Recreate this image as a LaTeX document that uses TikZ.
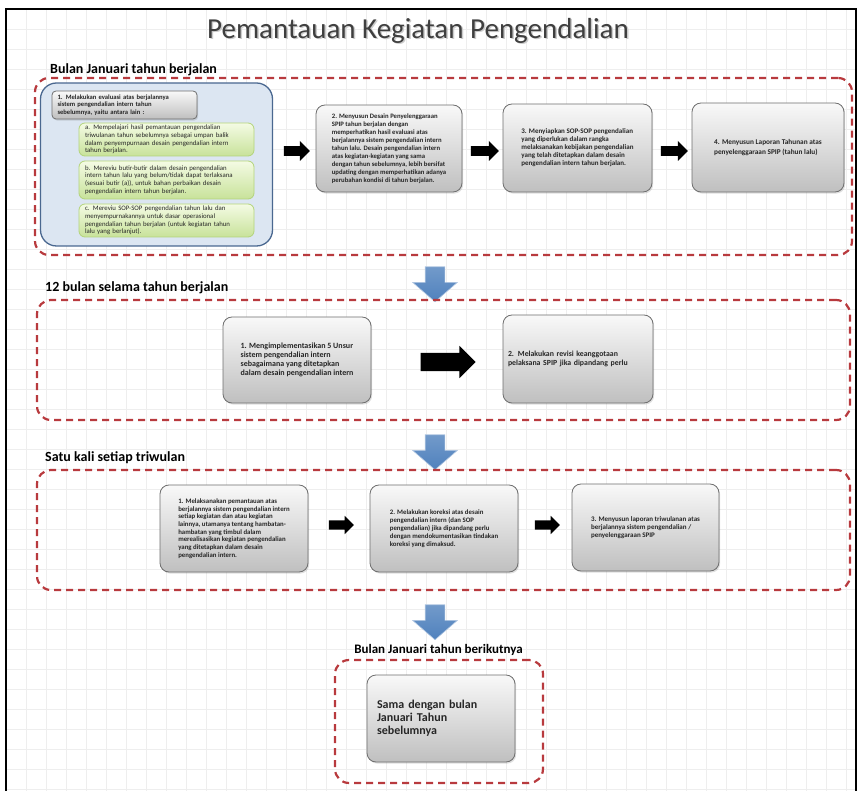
\documentclass[tikz,border=0pt]{standalone}
\usepackage{fontspec}
\setmainfont{Carlito}
\usetikzlibrary{shapes.arrows,shadows,calc}
\definecolor{zonered}{HTML}{B83A3E}
\definecolor{boxedge}{HTML}{6E6E6E}
\definecolor{inktext}{HTML}{262626}
\definecolor{panelblue}{HTML}{DCE6F2}
\definecolor{paneledge}{HTML}{4A6890}
\definecolor{leaftop}{HTML}{F4FBE4}
\definecolor{leafbot}{HTML}{C8E29A}
\definecolor{leafedge}{HTML}{B3D47A}
\definecolor{flowblue}{HTML}{4F81BD}
\definecolor{titlegray}{HTML}{3F3F3F}
\begin{document}
\begin{tikzpicture}[x=1pt,y=-1pt,
  zone/.style={draw=zonered, line width=2.2pt, dash pattern=on 7pt off 5pt,
    rounded corners=14pt, inner sep=0pt},
  graybox/.style={draw=boxedge, line width=0.8pt, rounded corners=9pt,
    top color=gray!5, bottom color=gray!50, align=left, text=inktext,
    inner sep=0pt, font=\fontsize{6.7}{8}\selectfont\bfseries,
    drop shadow={opacity=0.25, shadow xshift=1.2pt, shadow yshift=-1.6pt}},
  leafbox/.style={draw=leafedge, line width=0.8pt, rounded corners=6pt,
    top color=leaftop, bottom color=leafbot, align=left, text=inktext,
    inner sep=0pt, minimum width=175pt, text width=163pt,
    font=\fontsize{6.8}{7.8}\selectfont},
  panel/.style={draw=paneledge, line width=1.3pt, rounded corners=16pt,
    fill=panelblue, inner sep=0pt},
  heading/.style={anchor=west, inner sep=0pt, text=black,
    font=\fontsize{14}{16}\selectfont\bfseries},
  blkarrow/.style={single arrow, fill=black, draw=none, inner sep=0pt,
    minimum height=26pt, single arrow head extend=5pt},
  downarrow/.style={single arrow, rotate=-90, top color=flowblue!80, bottom color=flowblue,
    draw=white!55!flowblue, line width=0.6pt, inner xsep=0pt, inner ysep=9.5pt,
    minimum height=35pt, single arrow head extend=12.5pt, single arrow tip angle=98},
  gridline/.style={draw=gray!13, line width=0.4pt}
]
\useasboundingbox (0,0) rectangle (860,791);

% background grid and frame
\foreach \gx in {26,46,...,846} \draw[gridline] (\gx,9) -- (\gx,791);
\foreach \gy in {29,49,...,789} \draw[gridline] (6,\gy) -- (856,\gy);
\draw[black, line width=1.4pt] (6,791) -- (6,9) -- (856,9) -- (856,791);

% title
\node[text=black!20, font=\fontsize{29}{33}\selectfont] at (419.5,32) {Pemantauan Kegiatan Pengendalian};
\node[text=titlegray, font=\fontsize{29}{33}\selectfont] (title) at (418,31) {Pemantauan Kegiatan Pengendalian};

% ---------- January of the current year ----------
\node[heading] (h1) at (50,70) {Bulan Januari tahun berjalan};
\node[zone, minimum width=817pt, minimum height=177pt] (z1) at (443.5,166.5) {};

\node[panel, minimum width=232pt, minimum height=163pt] (eval) at (156.5,164.5) {};
\node[graybox, rounded corners=4pt, minimum width=145pt, minimum height=28pt, text width=134pt,
  font=\fontsize{6.6}{7.6}\selectfont\bfseries] (e0) at (124.5,105) {1. Melakukan evaluasi atas berjalannya\\sistem pengendalian intern tahun\\sebelumnya, yaitu antara lain :};
\node[leafbox, minimum height=33pt] (ea) at (166.5,139.5) {a. Mempelajari hasil pemantauan pengendalian\\triwulanan tahun sebelumnya sebagai umpan balik\\dalam penyempurnaan desain pengendalian intern\\tahun berjalan.};
\node[leafbox, minimum height=38pt] (eb) at (166.5,180) {b. Mereviu butir-butir dalam desain  pengendalian\\intern tahun lalu yang belum/tidak dapat terlaksana\\(sesuai butir (a)), untuk bahan perbaikan desain\\pengendalian intern tahun berjalan.};
\node[leafbox, minimum height=33pt] (ec) at (166.5,220.5) {c. Mereviu SOP-SOP pengendalian tahun lalu dan\\menyempurnakannya untuk dasar operasional\\pengendalian tahun berjalan (untuk kegiatan tahun\\lalu yang berlanjut).};

\node[graybox, minimum width=146pt, minimum height=87pt] (s2) at (389,148.5) {2. Menyusun Desain Penyelenggaraan\\SPIP tahun berjalan dengan\\memperhatikan hasil evaluasi atas\\berjalannya sistem pengendalian intern\\tahun lalu. Desain pengendalian intern\\atas kegiatan-kegiatan yang sama\\dengan tahun sebelumnya, lebih bersifat\\updating dengan memperhatikan adanya\\perubahan kondisi di tahun berjalan.};
\node[graybox, minimum width=149pt, minimum height=88pt, font=\fontsize{7}{8}\selectfont\bfseries] (s3) at (577.5,148) {3. Menyiapkan SOP-SOP pengendalian\\yang diperlukan dalam rangka\\melaksanakan kebijakan pengendalian\\yang telah ditetapkan dalam desain\\pengendalian intern tahun berjalan.};
\node[graybox, minimum width=152pt, minimum height=89pt, font=\fontsize{7.3}{9.5}\selectfont\bfseries] (s4) at (768,147.5) {4. Menyusun Laporan Tahunan atas\\penyelenggaraan SPIP (tahun lalu)};

% block arrows between the steps of the first row
\path (eval.east) -- (s2.west) coordinate[pos=0.5] (m12);
\path (s2.east) -- (s3.west) coordinate[pos=0.5] (m23);
\path (s3.east) -- (s4.west) coordinate[pos=0.5] (m34);
\node[blkarrow, minimum width=20pt, inner ysep=4.5pt, minimum height=26pt] (a12) at (m12 |- 0,151) {};
\node[blkarrow, minimum width=20pt, inner ysep=4.5pt, minimum height=28pt] (a23) at (m23 |- 0,151) {};
\node[blkarrow, minimum width=20pt, inner ysep=4.5pt, minimum height=27pt] (a34) at (m34 |- 0,151) {};

\node[downarrow] (d1) at (435,280) {};

% ---------- Twelve months of the current year ----------
\node[heading] (h2) at (45,288) {12 bulan selama tahun berjalan};
\node[zone, minimum width=813pt, minimum height=120pt] (z2) at (443.5,360) {};
\node[graybox, minimum width=148pt, minimum height=86pt, font=\fontsize{8}{8.8}\selectfont\bfseries] (m1) at (297,360) {1. Mengimplementasikan 5 Unsur\\sistem pengendalian intern\\sebagaimana yang ditetapkan\\dalam desain pengendalian intern};
\node[graybox, minimum width=150pt, minimum height=88pt, text width=140pt, font=\fontsize{7.8}{9}\selectfont\bfseries] (m2) at (578,359) {2. Melakukan revisi keanggotaan\\pelaksana SPIP jika dipandang perlu};
\path (m1.east) -- (m2.west) coordinate[pos=0.55] (mm);
\node[blkarrow, inner ysep=9pt, single arrow head extend=7pt, minimum height=55pt] (am) at (mm |- 0,362) {};

\node[downarrow] (d2) at (435,448) {};

% ---------- Once every quarter ----------
\node[heading] (h3) at (45,458) {Satu kali setiap triwulan};
\node[zone, minimum width=813pt, minimum height=120pt] (z3) at (443.5,530) {};
\node[graybox, minimum width=148pt, minimum height=87pt, font=\fontsize{6.8}{7.7}\selectfont\bfseries] (q1) at (234,528.5) {1. Melaksanakan pemantauan atas\\berjalannya sistem pengendalian intern\\setiap kegiatan dan atau kegiatan\\lainnya, utamanya tentang hambatan-\\hambatan yang timbul dalam\\merealisasikan kegiatan pengendalian\\yang ditetapkan dalam desain\\pengendalian intern.};
\node[graybox, minimum width=148pt, minimum height=87pt, font=\fontsize{6.8}{7.9}\selectfont\bfseries] (q2) at (444,528.5) {2. Melakukan koreksi atas desain\\pengendalian intern (dan SOP\\pengendalian) jika dipandang perlu\\dengan mendokumentasikan tindakan\\koreksi yang dimaksud.};
\node[graybox, minimum width=147pt, minimum height=87pt, font=\fontsize{7}{8.2}\selectfont\bfseries] (q3) at (645.5,527.5) {3. Menyusun laporan triwulanan atas\\berjalannya sistem pengendalian /\\penyelenggaraan SPIP};
\path (q1.east) -- (q2.west) coordinate[pos=0.5] (mq1);
\path (q2.east) -- (q3.west) coordinate[pos=0.5] (mq2);
\node[blkarrow, minimum width=18pt, inner ysep=4.5pt, single arrow head extend=4.5pt, minimum height=25pt] (aq1) at (mq1 |- 0,525) {};
\node[blkarrow, minimum width=18pt, inner ysep=4.5pt, single arrow head extend=4.5pt, minimum height=25pt] (aq2) at (mq2 |- 0,525) {};

\node[downarrow] (d3) at (435,618) {};

% ---------- January of the following year ----------
\node[inner sep=0pt, text=black, font=\fontsize{13}{15}\selectfont\bfseries] (h4) at (438.5,650) {Bulan Januari tahun berikutnya};
\node[zone, minimum width=208pt, minimum height=123pt] (z4) at (439,721.5) {};
\node[graybox, minimum width=148pt, minimum height=87pt, text width=128pt,
  font=\fontsize{12}{13}\selectfont\bfseries] (n1) at (441,718.5) {Sama dengan bulan\\Januari Tahun\\sebelumnya};
\end{tikzpicture}
\end{document}
